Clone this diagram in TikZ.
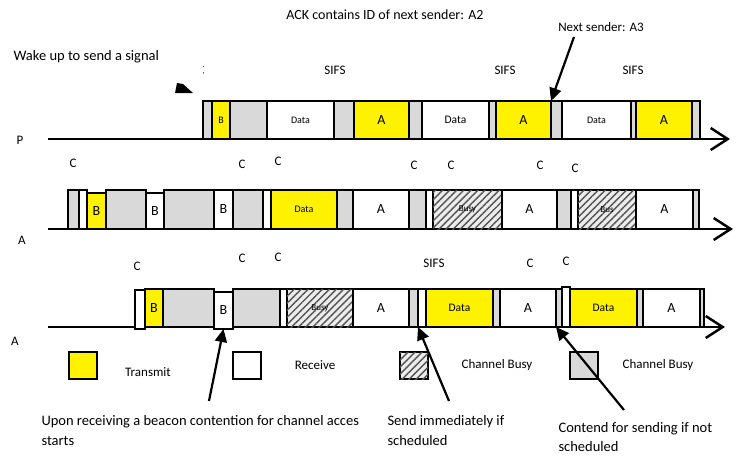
\documentclass[tikz,border=0pt]{standalone}
\usepackage{fontspec}
\setmainfont{Carlito}
\usetikzlibrary{arrows.meta,patterns.meta}

\begin{document}
\begin{tikzpicture}[x=1pt,y=-1pt,
  slot/.style={draw,line width=1.5pt,inner sep=0pt,outer sep=0pt,anchor=south west,minimum height=38pt},
  tx/.style={slot,fill=yellow},
  rx/.style={slot,fill=white},
  idle/.style={slot,fill=gray!30},
  busy/.style={slot,fill=gray!15,postaction={pattern={Lines[angle=45,distance=5pt,line width=1.4pt]},pattern color=gray!65!black}},
  fxs/.style={font=\fontsize{9}{10}\selectfont},
  fsm/.style={font=\fontsize{10}{12}\selectfont},
  fmd/.style={font=\fontsize{11.5}{13}\selectfont},
  flg/.style={font=\fontsize{14}{16}\selectfont},
  lbl/.style={font=\fontsize{13}{15}\selectfont},
  axis/.style={line width=2.5pt,-{Straight Barb[length=17pt,width=22pt]}},
  pointer/.style={line width=2.2pt,-{Triangle[length=13pt,width=12pt]}}]
\useasboundingbox (0,0) rectangle (739,456);

% texts on top
\node[font=\fontsize{14}{16}\selectfont] (ack) at (385,15) {ACK contains ID of next sender: A2};
\node[font=\fontsize{14.5}{16}\selectfont,anchor=west] (wake) at (10,57) {Wake up to send a signal};
\node[lbl] (nxt) at (601,27) {Next sender: A3};
\begin{scope}
\clip (203,60) rectangle (212,80);
\node[lbl] (cpart) at (201,70) {C};
\end{scope}
\fill (177,83) -- (183,84) -- (193,93) -- (175,93) -- cycle;
\node[lbl] (sifs1) at (335,70) {SIFS};
\node[lbl] (sifs2) at (505,70) {SIFS};
\node[lbl] (sifs3) at (633,70) {SIFS};

% row P
\coordinate (p0) at (48,139);
\coordinate (pend) at (730,139);
\draw[axis] (p0) -- (pend);
\node[lbl] (rowP) at (20,140) {P};
\node[idle,minimum width=9pt] (p1) at (203,139) {};
\node[tx,minimum width=18pt,fsm] (p2) at (212,139) {B};
\node[idle,minimum width=37pt] (p3) at (230,139) {};
\node[rx,minimum width=67pt,fsm] (p4) at (267,139) {Data};
\node[idle,minimum width=20pt] (p5) at (334,139) {};
\node[tx,minimum width=55pt,flg] (p6) at (354,139) {A};
\node[idle,minimum width=13pt] (p7) at (409,139) {};
\node[rx,minimum width=67pt,fmd] (p8) at (422,139) {Data};
\node[idle,minimum width=7pt] (p9) at (489,139) {};
\node[tx,minimum width=55pt,flg] (p10) at (496,139) {A};
\node[idle,minimum width=11pt] (p11) at (551,139) {};
\node[rx,minimum width=69pt,fsm] (p12) at (562,139) {Data};
\node[idle,minimum width=5pt] (p13) at (631,139) {};
\node[tx,minimum width=56pt,flg] (p14) at (636,139) {A};
\node[idle,minimum width=8pt] (p15) at (692,139) {};
\coordinate (nxtfrom) at (574,37);
\draw[pointer] (nxtfrom) -- (p10.north east);

% row A (second)
\coordinate (a0) at (48,229);
\coordinate (aend) at (733,229);
\draw[axis] (a0) -- (aend);
\node[lbl] (rowA) at (22,240) {A};
\node[lbl] (ca1) at (73,163) {C};
\node[lbl] (ca2) at (242,164) {C};
\node[lbl] (ca3) at (278,161) {C};
\node[lbl] (ca4) at (414,165) {C};
\node[lbl] (ca5) at (451,165) {C};
\node[lbl] (ca6) at (540,165) {C};
\node[lbl] (ca7) at (575,168) {C};
\node[idle,minimum width=11pt,minimum height=39pt] (a1) at (68,229) {};
\node[rx,minimum width=8pt,minimum height=39pt] (a2) at (79,229) {};
\node[tx,minimum width=19pt,minimum height=36pt,flg] (a3) at (87,229) {B};
\node[idle,minimum width=40pt,minimum height=39pt] (a4) at (106,229) {};
\node[rx,minimum width=18pt,minimum height=36pt,flg] (a5) at (146,229) {B};
\node[idle,minimum width=50pt,minimum height=39pt] (a6) at (164,229) {};
\node[rx,minimum width=19pt,minimum height=39pt,flg] (a7) at (214,229) {B};
\node[idle,minimum width=30pt,minimum height=39pt] (a8) at (233,229) {};
\node[rx,minimum width=8pt,minimum height=39pt] (a9) at (263,229) {};
\node[tx,minimum width=66pt,minimum height=39pt,fsm] (a10) at (271,229) {Data};
\node[idle,minimum width=16pt,minimum height=39pt] (a11) at (337,229) {};
\node[rx,minimum width=56pt,minimum height=39pt,flg] (a12) at (353,229) {A};
\node[idle,minimum width=17pt,minimum height=39pt] (a13) at (409,229) {};
\node[rx,minimum width=7pt,minimum height=39pt] (a14) at (426,229) {};
\node[busy,minimum width=69pt,minimum height=39pt,fxs] (a15) at (433,229) {Busy};
\node[rx,minimum width=55pt,minimum height=39pt,flg] (a16) at (502,229) {A};
\node[idle,minimum width=14pt,minimum height=39pt] (a17) at (557,229) {};
\node[rx,minimum width=7pt,minimum height=39pt] (a18) at (571,229) {};
\node[busy,minimum width=58pt,minimum height=39pt,fxs] (a19) at (578,229) {Bus};
\node[rx,minimum width=57pt,minimum height=39pt,flg] (a20) at (636,229) {A};
\node[idle,minimum width=6pt,minimum height=39pt] (a21) at (693,229) {};

% row A (third)
\coordinate (b0) at (48,327);
\coordinate (bend) at (725,327);
\draw[axis] (b0) -- (bend);
\node[lbl] (rowB) at (15,341) {A};
\node[lbl] (cb1) at (137,266) {C};
\node[lbl] (cb2) at (242,258) {C};
\node[lbl] (cb3) at (278,257) {C};
\node[lbl] (sifs4) at (434,263) {SIFS};
\node[lbl] (cb4) at (530,263) {C};
\node[lbl] (cb5) at (566,261) {C};
\node[rx,minimum width=10pt,minimum height=39pt] (b1) at (135,329) {};
\node[tx,minimum width=18pt,flg] (b2) at (145,327) {B};
\node[idle,minimum width=51pt] (b3) at (163,327) {};
\node[rx,minimum width=19pt,minimum height=37pt,flg] (b4) at (214,329) {B};
\node[idle,minimum width=47pt] (b5) at (233,327) {};
\node[rx,minimum width=7pt] (b6) at (280,327) {};
\node[busy,minimum width=66pt,fxs] (b7) at (287,327) {Busy};
\node[rx,minimum width=56pt,flg] (b8) at (353,327) {A};
\node[idle,minimum width=9pt] (b9) at (409,327) {};
\node[rx,minimum width=8pt] (b10) at (418,327) {};
\node[tx,minimum width=67pt,fmd] (b11) at (426,327) {Data};
\node[idle,minimum width=7pt] (b12) at (493,327) {};
\node[rx,minimum width=56pt,flg] (b13) at (500,327) {A};
\node[idle,minimum width=6pt] (b14) at (556,327) {};
\node[rx,minimum width=8pt,minimum height=40pt] (b15) at (562,327) {};
\node[tx,minimum width=67pt,fmd] (b16) at (570,327) {Data};
\node[idle,minimum width=6pt] (b17) at (637,327) {};
\node[rx,minimum width=57pt,flg] (b18) at (643,327) {A};
\node[idle,minimum width=4pt] (b19) at (700,327) {};

% legend
\node[tx,minimum width=28pt,minimum height=27pt] (keytx) at (69,379) {};
\node[lbl] (keytxt) at (148,372) {Transmit};
\node[rx,minimum width=28pt,minimum height=27pt] (keyrx) at (233,379) {};
\node[lbl] (keyrxt) at (315,365) {Receive};
\node[busy,minimum width=28pt,minimum height=27pt] (keybusy) at (400,379) {};
\node[lbl] (keybusyt) at (497,365) {Channel Busy};
\node[idle,minimum width=28pt,minimum height=27pt] (keyidle) at (570,379) {};
\node[lbl] (keyidlet) at (658,365) {Channel Busy};

% pointers from below
\coordinate (beacon) at (209,401);
\coordinate (sched) at (449,401);
\coordinate (notsched) at (624,410);
\draw[pointer] (beacon) -- (b4.south);
\draw[pointer] (sched) -- (b10.south west);
\draw[pointer] (notsched) -- (b14.south west);
\node[font=\fontsize{14.5}{20}\selectfont,anchor=west,align=left] (beacontxt) at (38,431) {Upon receiving a beacon contention for channel acces\\starts};
\node[font=\fontsize{14.5}{20}\selectfont,anchor=west,align=left] (schedtxt) at (384,431) {Send immediately if\\scheduled};
\node[font=\fontsize{14.5}{19}\selectfont,anchor=west,align=left] (notschedtxt) at (555,437) {Contend for sending if not\\scheduled};
\end{tikzpicture}
\end{document}
